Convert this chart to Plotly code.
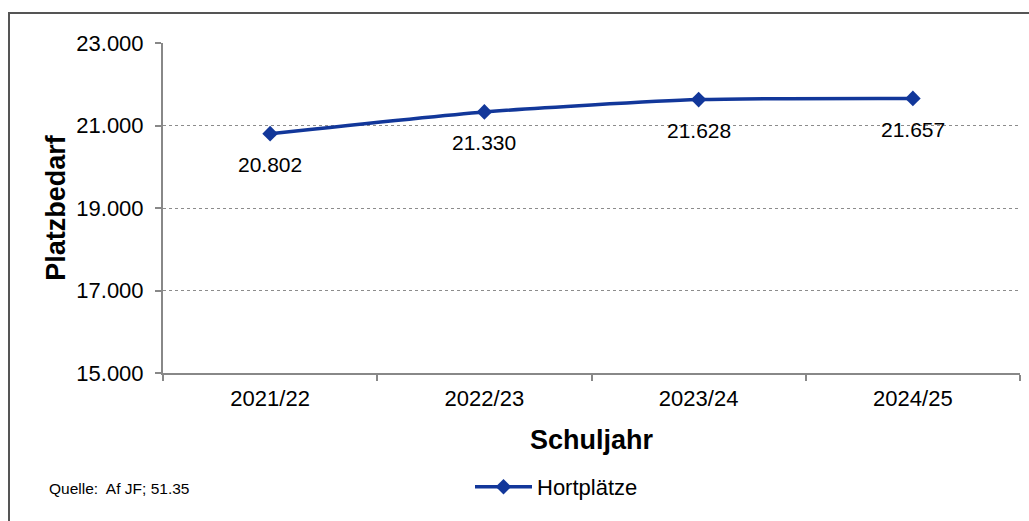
import plotly.graph_objects as go

categories = ["2021/22", "2022/23", "2023/24", "2024/25"]
values = [20802, 21330, 21628, 21657]
value_labels = ["20.802", "21.330", "21.628", "21.657"]
y_ticks = [15000, 17000, 19000, 21000, 23000]
y_tick_labels = ["15.000", "17.000", "19.000", "21.000", "23.000"]

W, H = 1029, 521
L, R, T, B = 163, 9, 43, 148
pw, ph = W - L - R, H - T - B

def px(x):
    return (x - L) / pw

def py(y):
    return (H - B - y) / ph

FONT = "Liberation Sans, Arial, sans-serif"
BLUE = "#12379A"

fig = go.Figure()
fig.add_trace(go.Scatter(
    x=categories, y=values, mode="lines+markers",
    name="Hortplätze",
    line=dict(color=BLUE, width=3.5, shape="spline", smoothing=0.6),
    marker=dict(symbol="diamond", size=12, color=BLUE),
))

for c, v, t in zip(categories, values, value_labels):
    fig.add_annotation(x=c, y=v, text=t, showarrow=False, yshift=-31,
                       xanchor="center", yanchor="middle",
                       font=dict(family=FONT, size=21, color="#000"))

fig.update_layout(
    width=W, height=H,
    margin=dict(l=L, r=R, t=T, b=B),
    paper_bgcolor="white", plot_bgcolor="white",
    font=dict(family=FONT, color="#000"),
    showlegend=True,
    legend=dict(orientation="h", x=px(470), y=py(487), xanchor="left", yanchor="middle",
                itemwidth=57,
                font=dict(family=FONT, size=22, color="#000"), bgcolor="rgba(0,0,0,0)"),
    xaxis=dict(
        type="category", range=[-0.5, 3.5],
        showline=True, linecolor="#888", linewidth=2,
        ticks="outside", ticklen=6, tickcolor="#888", tickwidth=2,
        tickson="boundaries", showgrid=False, ticklabelstandoff=5,
        tickfont=dict(family=FONT, size=22, color="#000"),
        title=dict(text="<b>Schuljahr</b>", font=dict(family=FONT, size=27, color="#000"), standoff=20),
    ),
    yaxis=dict(
        range=[15000, 23000], tickvals=y_ticks, ticktext=y_tick_labels,
        showline=True, linecolor="#888", linewidth=2,
        ticks="outside", ticklen=6, tickcolor="#888", tickwidth=2,
        showgrid=True, gridcolor="#8c8c8c", griddash="dot", gridwidth=1,
        zeroline=False, ticklabelstandoff=7,
        tickfont=dict(family=FONT, size=22, color="#000"),
        title=dict(text="<b>Platzbedarf</b>", font=dict(family=FONT, size=27, color="#000"), standoff=3),
    ),
)

fig.add_annotation(
    x=px(47), y=py(488), xref="paper", yref="paper", xanchor="left", yanchor="middle",
    text="Quelle:  Af JF; 51.35", showarrow=False,
    font=dict(family=FONT, size=15.5, color="#000"),
)

fig.add_shape(
    type="rect", xref="paper", yref="paper",
    x0=px(9), x1=px(1040), y0=py(13), y1=py(540),
    line=dict(color="#555", width=2), fillcolor="rgba(0,0,0,0)", layer="above",
)

fig.write_html("out.html", config={"displayModeBar": False},
               post_script="document.body.style.margin='0';")
